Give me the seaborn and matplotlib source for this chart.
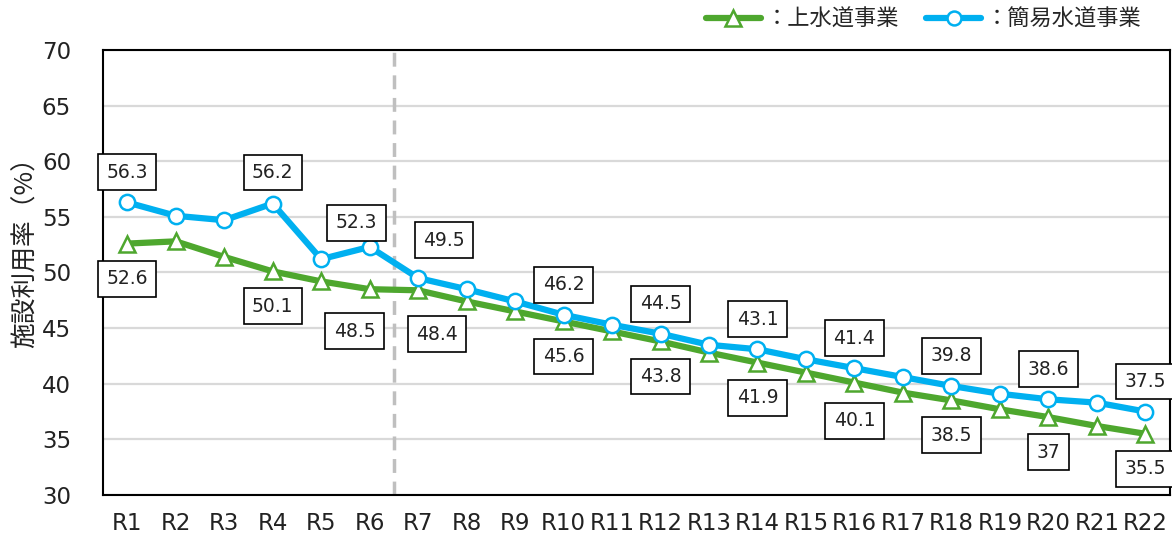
import matplotlib
matplotlib.use("Agg")
import matplotlib.pyplot as plt
import seaborn as sns
import pandas as pd
from matplotlib.lines import Line2D

# Fiscal years
years = [f"R{i}" for i in range(1, 23)]

# Facility utilization rate (%)
josuido = [52.6, 52.8, 51.4, 50.1, 49.2, 48.5, 48.4, 47.4, 46.5, 45.6, 44.7,
           43.8, 42.8, 41.9, 41.0, 40.1, 39.2, 38.5, 37.7, 37.0, 36.2, 35.5]
kani = [56.3, 55.1, 54.7, 56.2, 51.2, 52.3, 49.5, 48.5, 47.4, 46.2, 45.3,
        44.5, 43.5, 43.1, 42.2, 41.4, 40.6, 39.8, 39.1, 38.6, 38.3, 37.5]

series_names = ["上水道事業", "簡易水道事業"]
labelled_idx = [0, 3, 5, 6, 9, 11, 13, 15, 17, 19, 21]

GREEN = "#4ea72e"
BLUE = "#00b0f0"

sns.set_theme(style="white")
plt.rcParams["font.family"] = ["DejaVu Sans", "Noto Sans CJK JP"]

df = pd.DataFrame({
    "year": years * 2,
    "x": list(range(len(years))) * 2,
    "rate": josuido + kani,
    "series": [series_names[0]] * len(years) + [series_names[1]] * len(years),
})

fig = plt.figure(figsize=(11.72, 5.38), dpi=100)
ax = fig.add_axes([0.0879, 0.080, 0.910, 0.827])

for name, color, marker in [(series_names[0], GREEN, "^"), (series_names[1], BLUE, "o")]:
    sub = df[df["series"] == name]
    sns.lineplot(data=sub, x="x", y="rate", ax=ax, color=color, linewidth=4.5,
                 marker=marker, markersize=11 if marker == "o" else 12,
                 markerfacecolor="white", markeredgecolor=color,
                 markeredgewidth=1.8, legend=False, zorder=4)

ax.axvline(5.5, color="#bfbfbf", linewidth=2.5, linestyle=(0, (4, 2.5)), zorder=2)

ax.set_xlim(-0.5, len(years) - 0.5)
ax.set_ylim(30, 70)
ax.set_yticks(range(30, 71, 5))
ax.set_xticks(range(len(years)))
ax.set_xticklabels(years)
ax.tick_params(axis="both", labelsize=16.5, length=0, colors="#222222")
ax.tick_params(axis="x", pad=12)
ax.tick_params(axis="y", pad=23)
ax.yaxis.grid(True, color="#d9d9d9", linewidth=1.6, zorder=0)
ax.set_axisbelow(True)
for sp in ax.spines.values():
    sp.set_color("black")
    sp.set_linewidth(1.5)
ax.set_xlabel("")
ax.set_ylabel("施設利用率（%）", fontsize=18.5, color="#222222",
              family=["Noto Sans CJK JP", "DejaVu Sans"])
ax.yaxis.set_label_coords(-0.060, 0.56)

# Value labels: (dx, dy) pixel offsets of each box from its point
blue_off = {0: (0, 30), 3: (0, 31), 5: (-13, 24), 6: (26, 38)}
green_off = {5: (-15, -42), 6: (19, -44), 15: (0, -38)}
box = dict(boxstyle="square,pad=0.45", facecolor="white", edgecolor="black", linewidth=1.2)
for i in labelled_idx:
    for vals, offs, default in [(kani, blue_off, (0, 30)), (josuido, green_off, (0, -35))]:
        v = vals[i]
        txt = f"{v:g}"
        dx, dy = offs.get(i, default)
        ax.annotate(txt, (i, v), xytext=(dx, dy), textcoords="offset pixels",
                    ha="center", va="center", fontsize=13.5, color="#222222",
                    bbox=box, zorder=6, annotation_clip=False)

handles = [
    Line2D([], [], color=GREEN, linewidth=4.5, marker="^", markersize=11,
           markerfacecolor="white", markeredgecolor=GREEN, markeredgewidth=1.8),
    Line2D([], [], color=BLUE, linewidth=4.5, marker="o", markersize=10,
           markerfacecolor="white", markeredgecolor=BLUE, markeredgewidth=1.8),
]
fig.legend(handles, ["：" + n for n in series_names], loc="upper right",
           bbox_to_anchor=(0.974, 0.985), ncol=2, frameon=False,
           borderpad=0, borderaxespad=0,
           handlelength=2.5, handletextpad=0.2, columnspacing=1.2,
           prop={"family": ["Noto Sans CJK JP", "DejaVu Sans"], "size": 16})

fig.savefig("out.png", dpi=100)
